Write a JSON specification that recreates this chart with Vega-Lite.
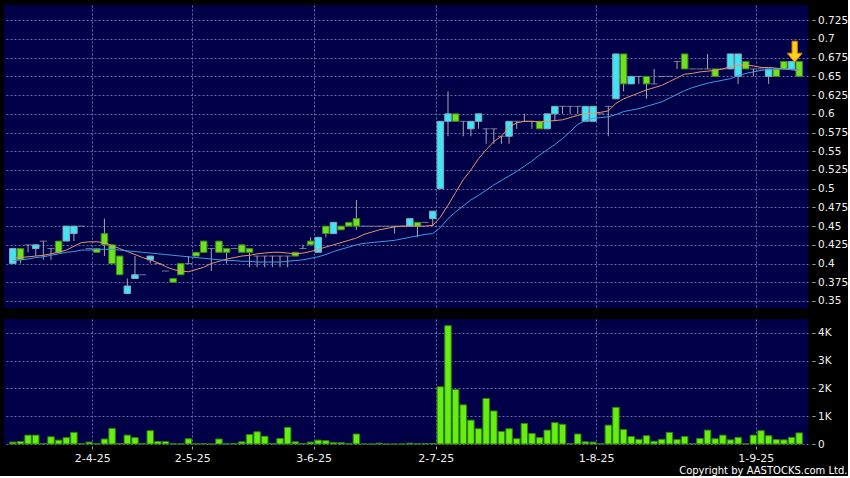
{
"$schema":"https://vega.github.io/schema/vega-lite/v6.json",
"background":"#000000",
"padding":{"left":4,"top":5,"right":0,"bottom":0},
"config":{"view":{"fill":"#000048","stroke":null},"font":"DejaVu Sans",
"axis":{"labelColor":"#f0f0f0","labelFont":"DejaVu Sans","labelFontSize":10.5,"tickColor":"#a0a0a0","gridColor":"#6a6aa8","gridDash":[2,2],"gridWidth":1,"domain":false,"title":null}},
"title":{"text":"Copyright by AASTOCKS.com Ltd.","orient":"bottom","anchor":"end","frame":"bounds","fontSize":10,"font":"DejaVu Sans","fontWeight":"normal","color":"#ffffff","offset":3},
"datasets":{
"k":[
{"i":0,"o":0.40,"h":0.42,"l":0.40,"c":0.42,"v":70,"m1":0.407,"m2":0.404},
{"i":1,"o":0.42,"h":0.42,"l":0.40,"c":0.405,"v":90,"m1":0.408,"m2":0.405},
{"i":2,"o":0.425,"h":0.425,"l":0.415,"c":0.425,"v":320,"m1":0.409,"m2":0.406},
{"i":3,"o":0.42,"h":0.425,"l":0.41,"c":0.425,"v":320,"m1":0.410,"m2":0.408},
{"i":4,"o":0.43,"h":0.43,"l":0.405,"c":0.43,"v":20,"m1":0.411,"m2":0.409},
{"i":5,"o":0.42,"h":0.42,"l":0.405,"c":0.42,"v":260,"m1":0.413,"m2":0.411},
{"i":6,"o":0.43,"h":0.43,"l":0.415,"c":0.415,"v":140,"m1":0.415,"m2":0.413},
{"i":7,"o":0.43,"h":0.45,"l":0.43,"c":0.45,"v":230,"m1":0.418,"m2":0.415},
{"i":8,"o":0.44,"h":0.45,"l":0.43,"c":0.45,"v":420,"m1":0.423,"m2":0.416},
{"i":9,"o":0.45,"h":0.45,"l":0.45,"c":0.45,"v":10,"m1":0.428,"m2":0.418},
{"i":10,"o":0.42,"h":0.42,"l":0.42,"c":0.42,"v":70,"m1":0.429,"m2":0.418},
{"i":11,"o":0.42,"h":0.42,"l":0.415,"c":0.415,"v":10,"m1":0.429,"m2":0.419},
{"i":12,"o":0.44,"h":0.46,"l":0.41,"c":0.425,"v":180,"m1":0.428,"m2":0.419},
{"i":13,"o":0.425,"h":0.425,"l":0.40,"c":0.40,"v":560,"m1":0.424,"m2":0.419},
{"i":14,"o":0.41,"h":0.41,"l":0.385,"c":0.385,"v":20,"m1":0.420,"m2":0.418},
{"i":15,"o":0.36,"h":0.38,"l":0.36,"c":0.37,"v":320,"m1":0.416,"m2":0.417},
{"i":16,"o":0.38,"h":0.41,"l":0.38,"c":0.385,"v":230,"m1":0.412,"m2":0.416},
{"i":17,"o":0.385,"h":0.385,"l":0.385,"c":0.385,"v":20,"m1":0.408,"m2":0.415},
{"i":18,"o":0.405,"h":0.41,"l":0.40,"c":0.41,"v":480,"m1":0.405,"m2":0.414},
{"i":19,"o":0.40,"h":0.40,"l":0.40,"c":0.40,"v":90,"m1":0.401,"m2":0.413},
{"i":20,"o":0.39,"h":0.39,"l":0.39,"c":0.39,"v":90,"m1":0.396,"m2":0.412},
{"i":21,"o":0.38,"h":0.38,"l":0.375,"c":0.375,"v":10,"m1":0.392,"m2":0.411},
{"i":22,"o":0.40,"h":0.40,"l":0.385,"c":0.385,"v":10,"m1":0.390,"m2":0.410},
{"i":23,"o":0.40,"h":0.41,"l":0.40,"c":0.40,"v":190,"m1":0.389,"m2":0.409},
{"i":24,"o":0.415,"h":0.415,"l":0.41,"c":0.41,"v":10,"m1":0.392,"m2":0.408},
{"i":25,"o":0.43,"h":0.43,"l":0.415,"c":0.415,"v":10,"m1":0.395,"m2":0.407},
{"i":26,"o":0.42,"h":0.42,"l":0.39,"c":0.42,"v":0,"m1":0.400,"m2":0.406},
{"i":27,"o":0.43,"h":0.43,"l":0.415,"c":0.415,"v":180,"m1":0.403,"m2":0.405},
{"i":28,"o":0.42,"h":0.42,"l":0.40,"c":0.415,"v":10,"m1":0.406,"m2":0.404},
{"i":29,"o":0.42,"h":0.42,"l":0.42,"c":0.42,"v":20,"m1":0.408,"m2":0.404},
{"i":30,"o":0.425,"h":0.425,"l":0.415,"c":0.415,"v":80,"m1":0.410,"m2":0.403},
{"i":31,"o":0.42,"h":0.42,"l":0.395,"c":0.415,"v":340,"m1":0.411,"m2":0.403},
{"i":32,"o":0.41,"h":0.41,"l":0.395,"c":0.41,"v":440,"m1":0.413,"m2":0.402},
{"i":33,"o":0.41,"h":0.41,"l":0.395,"c":0.41,"v":280,"m1":0.414,"m2":0.402},
{"i":34,"o":0.41,"h":0.41,"l":0.395,"c":0.41,"v":20,"m1":0.415,"m2":0.402},
{"i":35,"o":0.41,"h":0.41,"l":0.395,"c":0.41,"v":200,"m1":0.415,"m2":0.402},
{"i":36,"o":0.41,"h":0.41,"l":0.395,"c":0.41,"v":600,"m1":0.414,"m2":0.403},
{"i":37,"o":0.415,"h":0.415,"l":0.41,"c":0.41,"v":80,"m1":0.413,"m2":0.404},
{"i":38,"o":0.42,"h":0.425,"l":0.42,"c":0.42,"v":20,"m1":0.414,"m2":0.405},
{"i":39,"o":0.43,"h":0.435,"l":0.425,"c":0.425,"v":70,"m1":0.416,"m2":0.407},
{"i":40,"o":0.415,"h":0.435,"l":0.415,"c":0.435,"v":140,"m1":0.419,"m2":0.409},
{"i":41,"o":0.45,"h":0.45,"l":0.435,"c":0.44,"v":120,"m1":0.422,"m2":0.412},
{"i":42,"o":0.44,"h":0.455,"l":0.44,"c":0.455,"v":50,"m1":0.425,"m2":0.416},
{"i":43,"o":0.45,"h":0.45,"l":0.445,"c":0.445,"v":50,"m1":0.428,"m2":0.419},
{"i":44,"o":0.455,"h":0.455,"l":0.45,"c":0.45,"v":10,"m1":0.431,"m2":0.422},
{"i":45,"o":0.46,"h":0.485,"l":0.445,"c":0.45,"v":360,"m1":0.434,"m2":0.425},
{"i":46,"o":0.45,"h":0.45,"l":0.45,"c":0.45,"v":0,"m1":0.439,"m2":0.427},
{"i":47,"o":0.45,"h":0.45,"l":0.45,"c":0.45,"v":0,"m1":0.442,"m2":0.428},
{"i":48,"o":0.45,"h":0.45,"l":0.45,"c":0.45,"v":30,"m1":0.445,"m2":0.429},
{"i":49,"o":0.45,"h":0.45,"l":0.45,"c":0.45,"v":0,"m1":0.447,"m2":0.430},
{"i":50,"o":0.45,"h":0.45,"l":0.44,"c":0.45,"v":0,"m1":0.449,"m2":0.431},
{"i":51,"o":0.45,"h":0.45,"l":0.45,"c":0.45,"v":0,"m1":0.450,"m2":0.433},
{"i":52,"o":0.45,"h":0.46,"l":0.45,"c":0.46,"v":30,"m1":0.450,"m2":0.435},
{"i":53,"o":0.455,"h":0.455,"l":0.435,"c":0.45,"v":10,"m1":0.450,"m2":0.437},
{"i":54,"o":0.455,"h":0.455,"l":0.455,"c":0.455,"v":20,"m1":0.450,"m2":0.439},
{"i":55,"o":0.46,"h":0.47,"l":0.45,"c":0.47,"v":20,"m1":0.451,"m2":0.440},
{"i":56,"o":0.50,"h":0.59,"l":0.50,"c":0.59,"v":2060,"m1":0.462,"m2":0.448},
{"i":57,"o":0.59,"h":0.63,"l":0.57,"c":0.60,"v":4260,"m1":0.478,"m2":0.460},
{"i":58,"o":0.60,"h":0.60,"l":0.59,"c":0.59,"v":1960,"m1":0.495,"m2":0.469},
{"i":59,"o":0.59,"h":0.59,"l":0.57,"c":0.59,"v":1410,"m1":0.512,"m2":0.477},
{"i":60,"o":0.58,"h":0.59,"l":0.57,"c":0.59,"v":860,"m1":0.525,"m2":0.485},
{"i":61,"o":0.59,"h":0.60,"l":0.58,"c":0.60,"v":550,"m1":0.540,"m2":0.491},
{"i":62,"o":0.58,"h":0.58,"l":0.56,"c":0.58,"v":1640,"m1":0.552,"m2":0.498},
{"i":63,"o":0.58,"h":0.58,"l":0.56,"c":0.58,"v":1190,"m1":0.563,"m2":0.505},
{"i":64,"o":0.57,"h":0.57,"l":0.56,"c":0.57,"v":450,"m1":0.570,"m2":0.511},
{"i":65,"o":0.57,"h":0.59,"l":0.56,"c":0.59,"v":550,"m1":0.582,"m2":0.517},
{"i":66,"o":0.59,"h":0.59,"l":0.58,"c":0.59,"v":190,"m1":0.588,"m2":0.523},
{"i":67,"o":0.59,"h":0.60,"l":0.59,"c":0.59,"v":740,"m1":0.590,"m2":0.530},
{"i":68,"o":0.59,"h":0.59,"l":0.58,"c":0.59,"v":380,"m1":0.590,"m2":0.537},
{"i":69,"o":0.59,"h":0.59,"l":0.58,"c":0.58,"v":230,"m1":0.589,"m2":0.545},
{"i":70,"o":0.58,"h":0.60,"l":0.58,"c":0.60,"v":500,"m1":0.590,"m2":0.552},
{"i":71,"o":0.60,"h":0.61,"l":0.59,"c":0.61,"v":770,"m1":0.591,"m2":0.559},
{"i":72,"o":0.61,"h":0.61,"l":0.60,"c":0.61,"v":710,"m1":0.592,"m2":0.567},
{"i":73,"o":0.61,"h":0.61,"l":0.60,"c":0.61,"v":10,"m1":0.595,"m2":0.576},
{"i":74,"o":0.61,"h":0.61,"l":0.60,"c":0.61,"v":360,"m1":0.598,"m2":0.586},
{"i":75,"o":0.59,"h":0.61,"l":0.59,"c":0.61,"v":80,"m1":0.600,"m2":0.591},
{"i":76,"o":0.59,"h":0.61,"l":0.59,"c":0.61,"v":70,"m1":0.601,"m2":0.594},
{"i":77,"o":0.60,"h":0.60,"l":0.60,"c":0.60,"v":10,"m1":0.602,"m2":0.595},
{"i":78,"o":0.61,"h":0.61,"l":0.57,"c":0.61,"v":680,"m1":0.604,"m2":0.596},
{"i":79,"o":0.62,"h":0.68,"l":0.62,"c":0.68,"v":1320,"m1":0.614,"m2":0.599},
{"i":80,"o":0.68,"h":0.68,"l":0.63,"c":0.64,"v":520,"m1":0.620,"m2":0.603},
{"i":81,"o":0.64,"h":0.65,"l":0.64,"c":0.65,"v":270,"m1":0.624,"m2":0.605},
{"i":82,"o":0.65,"h":0.65,"l":0.64,"c":0.65,"v":170,"m1":0.628,"m2":0.607},
{"i":83,"o":0.65,"h":0.65,"l":0.62,"c":0.64,"v":300,"m1":0.632,"m2":0.610},
{"i":84,"o":0.64,"h":0.66,"l":0.64,"c":0.64,"v":100,"m1":0.635,"m2":0.613},
{"i":85,"o":0.65,"h":0.65,"l":0.65,"c":0.65,"v":170,"m1":0.638,"m2":0.616},
{"i":86,"o":0.65,"h":0.65,"l":0.65,"c":0.65,"v":420,"m1":0.643,"m2":0.621},
{"i":87,"o":0.67,"h":0.67,"l":0.66,"c":0.67,"v":160,"m1":0.648,"m2":0.626},
{"i":88,"o":0.68,"h":0.68,"l":0.66,"c":0.66,"v":270,"m1":0.653,"m2":0.631},
{"i":89,"o":0.66,"h":0.66,"l":0.66,"c":0.66,"v":10,"m1":0.654,"m2":0.635},
{"i":90,"o":0.66,"h":0.66,"l":0.66,"c":0.66,"v":200,"m1":0.656,"m2":0.638},
{"i":91,"o":0.66,"h":0.68,"l":0.66,"c":0.66,"v":500,"m1":0.657,"m2":0.641},
{"i":92,"o":0.66,"h":0.66,"l":0.65,"c":0.65,"v":190,"m1":0.658,"m2":0.643},
{"i":93,"o":0.66,"h":0.66,"l":0.66,"c":0.66,"v":320,"m1":0.660,"m2":0.645},
{"i":94,"o":0.66,"h":0.68,"l":0.66,"c":0.68,"v":150,"m1":0.663,"m2":0.647},
{"i":95,"o":0.65,"h":0.68,"l":0.64,"c":0.68,"v":240,"m1":0.665,"m2":0.651},
{"i":96,"o":0.67,"h":0.67,"l":0.66,"c":0.66,"v":10,"m1":0.665,"m2":0.654},
{"i":97,"o":0.66,"h":0.66,"l":0.65,"c":0.66,"v":320,"m1":0.664,"m2":0.656},
{"i":98,"o":0.66,"h":0.66,"l":0.66,"c":0.66,"v":480,"m1":0.662,"m2":0.658},
{"i":99,"o":0.65,"h":0.66,"l":0.64,"c":0.66,"v":300,"m1":0.662,"m2":0.659},
{"i":100,"o":0.66,"h":0.66,"l":0.65,"c":0.65,"v":160,"m1":0.661,"m2":0.660},
{"i":101,"o":0.67,"h":0.67,"l":0.66,"c":0.66,"v":150,"m1":0.660,"m2":0.660},
{"i":102,"o":0.66,"h":0.67,"l":0.66,"c":0.67,"v":240,"m1":0.659,"m2":0.659},
{"i":103,"o":0.67,"h":0.67,"l":0.65,"c":0.65,"v":400,"m1":0.658,"m2":0.659}
],
"arrow":[{"i":103,"p":0.683}]
},
"spacing":11,
"vconcat":[
{
"width":804,"height":303,
"data":{"name":"k"},
"encoding":{
"x":{"field":"i","type":"quantitative","scale":{"domain":[-0.5,103.5],"nice":false,"zero":false},
"axis":{"values":[10.4,23.5,39.4,55.4,76.4,97.3],"labels":false,"ticks":false,"grid":true}},
"y":{"field":"l","type":"quantitative","scale":{"domain":[0.3406,0.7454],"nice":false,"zero":false},
"axis":{"orient":"right","values":[0.35,0.375,0.4,0.425,0.45,0.475,0.5,0.525,0.55,0.575,0.6,0.625,0.65,0.675,0.7,0.725],"format":".3~f","offset":4,"tickSize":3,"labelPadding":2.5,"grid":true}}},
"layer":[
{"mark":{"type":"rule","color":"#a8a8a8","strokeWidth":1},
"encoding":{"y2":{"field":"h"}}},
{"transform":[{"filter":"datum.o != datum.c"}],
"mark":{"type":"bar","width":6.5,"strokeWidth":1},
"encoding":{"y":{"field":"o","type":"quantitative"},"y2":{"field":"c"},
"fill":{"condition":{"test":"datum.c > datum.o","value":"#3ee6f4"},"value":"#6ee21e"},
"stroke":{"condition":{"test":"datum.c > datum.o","value":"#8aa6b8"},"value":"#3f8a1c"}}},
{"transform":[{"filter":"datum.o == datum.c"}],
"mark":{"type":"tick","orient":"horizontal","thickness":1,"size":7,"color":"#a8a8a8"},
"encoding":{"y":{"field":"o","type":"quantitative"}}},
{"mark":{"type":"line","color":"#e8946a","strokeWidth":1},
"encoding":{"y":{"field":"m1","type":"quantitative"}}},
{"mark":{"type":"line","color":"#3c9ce6","strokeWidth":1},
"encoding":{"y":{"field":"m2","type":"quantitative"}}},
{"data":{"name":"arrow"},
"mark":{"type":"point","shape":"M -0.35 -1.4 L 0.35 -1.4 L 0.35 0.2 L 1 0.2 L 0 1.4 L -1 0.2 L -0.35 0.2 Z","size":225,"filled":true,"fill":"#ffd21a","stroke":"#e07a00","strokeWidth":1,"opacity":1,"xOffset":-4.5},
"encoding":{"y":{"field":"p","type":"quantitative"}}}
]
},
{
"width":804,"height":125,
"data":{"name":"k"},
"mark":{"type":"bar","width":6.5,"fill":"#66ee11","stroke":"#2f7f10","strokeWidth":1},
"encoding":{
"x":{"field":"i","type":"quantitative","scale":{"domain":[-0.5,103.5],"nice":false,"zero":false},
"axis":{"values":[10.4,23.5,39.4,55.4,76.4,97.3],"grid":true,"tickSize":3,"offset":2,"labelPadding":3,"labelFontSize":11,
"labelExpr":"datum.value < 15 ? '2-4-25' : datum.value < 30 ? '2-5-25' : datum.value < 45 ? '3-6-25' : datum.value < 65 ? '2-7-25' : datum.value < 85 ? '1-8-25' : '1-9-25'"}},
"y":{"field":"v","type":"quantitative","scale":{"domain":[0,4500],"nice":false},
"axis":{"orient":"right","values":[0,1000,2000,3000,4000],"offset":4,"tickSize":3,"labelPadding":2.5,"grid":true,
"labelExpr":"datum.value == 0 ? '0' : (datum.value/1000) + 'K'"}}
}
}
]
}
